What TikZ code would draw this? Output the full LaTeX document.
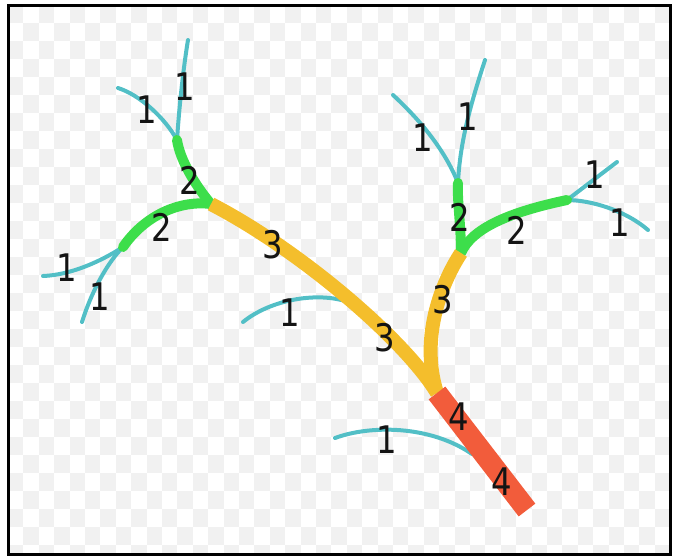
\documentclass[tikz,border=0pt]{standalone}
\usepackage{fontspec}
\setmainfont{DejaVu Sans}
\definecolor{ord1}{HTML}{52BFC6}
\definecolor{ord2}{HTML}{3DDE4B}
\definecolor{ord3}{HTML}{F4BE2C}
\definecolor{ord4}{HTML}{F25C3B}
\definecolor{checker}{HTML}{F1F1F1}
\tikzset{
  o1/.style={draw=ord1, line width=4pt, line cap=round},
  o2/.style={draw=ord2, line width=10pt, line cap=round},
  o3/.style={draw=ord3, line width=14pt, line cap=butt},
  o4/.style={draw=ord4, line width=21pt, line cap=butt},
  lab/.style={inner sep=0pt, text=black!92, xscale=0.85,
    font=\fontsize{38}{38}\selectfont},
}
\begin{document}
\begin{tikzpicture}[x=1pt, y=-1pt]
\useasboundingbox (0,0) rectangle (674,558);
% checkered backdrop inside the frame
\begin{scope}
  \clip (8,5) rectangle (670,554);
  \foreach \i in {0,...,43}{
    \foreach \j in {0,...,31}{
      \pgfmathtruncatemacro\cellpar{mod(\i+\j,2)}
      \ifnum\cellpar=0
        \fill[checker] ({8+15.4*\i},{5+18*\j}) rectangle ++(15.4,18);
      \fi
    }
  }
\end{scope}
\draw[line width=3pt] (8,5) rectangle (670,554);

% junctions and channel ends
\coordinate (mouth) at (527,510);
\coordinate (j4) at (437,393);
\coordinate (jl) at (211,204);
\coordinate (jr) at (461,253);
\coordinate (jla) at (177,140);
\coordinate (jlb) at (123,247);
\coordinate (jra) at (458,183);
\coordinate (jrb) at (567,200);
\coordinate (s1) at (188,40);
\coordinate (s2) at (118,88);
\coordinate (s3) at (43,276);
\coordinate (s4) at (82,322);
\coordinate (s5) at (485,60);
\coordinate (s6) at (393,95);
\coordinate (s7) at (617,162);
\coordinate (s8) at (648,230);
\coordinate (s9) at (243,322);
\coordinate (t9) at (345,301);
\coordinate (s10) at (335,438);
\coordinate (t10) at (472,454);

% first-order streams
\draw[o1] (jla) .. controls (179,110) and (183,70) .. (s1);
\draw[o1] (jla) .. controls (165,118) and (140,95) .. (s2);
\draw[o1] (jlb) .. controls (100,262) and (70,275) .. (s3);
\draw[o1] (jlb) .. controls (108,262) and (92,290) .. (s4);
\draw[o1] (jra) .. controls (460,140) and (472,100) .. (s5);
\draw[o1] (jra) .. controls (445,150) and (420,120) .. (s6);
\draw[o1] (jrb) -- (s7);
\draw[o1] (jrb) .. controls (590,200) and (625,210) .. (s8);
\draw[o1] (s9) .. controls (270,300) and (315,292) .. (t9);
\draw[o1] (s10) .. controls (370,425) and (430,425) .. (t10);

% second-order streams
\draw[o2] (jl) .. controls (195,185) and (180,160) .. (jla);
\draw[o2] (jl) .. controls (180,200) and (145,215) .. (jlb);
\draw[o2] (jr) .. controls (461,225) and (457,200) .. (jra);
\draw[o2] (jr) .. controls (472,228) and (510,212) .. (jrb);

% third-order streams
\draw[o3] (j4) .. controls (405,340) and (300,250) .. (jl);
\draw[o3] (j4) .. controls (420,340) and (440,285) .. (jr);

% fourth-order trunk
\draw[o4] (j4) -- (mouth);

% stream order labels
\node[lab] (n4a) at (459,417) {4};
\node[lab] (n4b) at (502,482) {4};
\node[lab] (n3a) at (385,338) {3};
\node[lab] (n3b) at (273,245) {3};
\node[lab] (n3c) at (443,300) {3};
\node[lab] (n2a) at (190,180) {2};
\node[lab] (n2b) at (162,227) {2};
\node[lab] (n2c) at (460,217) {2};
\node[lab] (n2d) at (517,230) {2};
\node[lab] (n1a) at (185,87) {1};
\node[lab] (n1b) at (147,110) {1};
\node[lab] (n1c) at (67,268) {1};
\node[lab] (n1d) at (100,297) {1};
\node[lab] (n1e) at (468,117) {1};
\node[lab] (n1f) at (423,138) {1};
\node[lab] (n1g) at (595,175) {1};
\node[lab] (n1h) at (620,223) {1};
\node[lab] (n1i) at (290,313) {1};
\node[lab] (n1j) at (387,440) {1};
\end{tikzpicture}
\end{document}
